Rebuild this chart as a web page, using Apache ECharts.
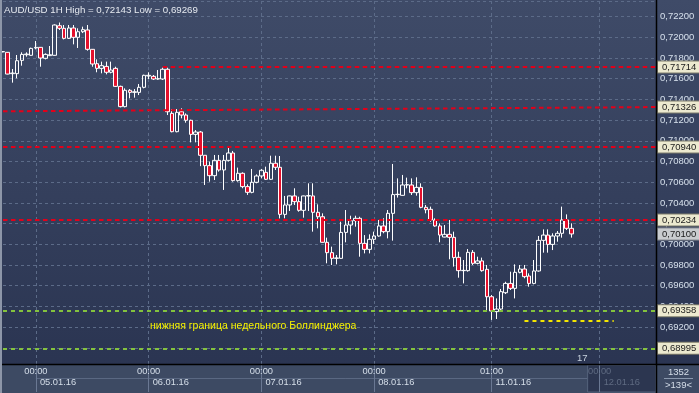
<!DOCTYPE html>
<html><head><meta charset="utf-8">
<script src="https://cdn.jsdelivr.net/npm/echarts@6/dist/echarts.min.js"></script>
<style>html,body{margin:0;padding:0;background:#2f3a56;}#c{width:699px;height:393px;}</style>
</head><body><div id="c"></div>
<script>
// ---------- data ----------
const days = ['04.01.16','05.01.16','06.01.16','07.01.16','08.01.16','11.01.16','12.01.16'];
const dayStart = [17,0,0,0,0,0,0];
const dayEnd = [23,23,23,23,23,23,12];
const tickIdx = [7,31,55,79,104,127];
const futureIdx = [127];

const open = [0.71860,0.71855,0.71649,0.71649,0.71777,0.71832,0.71826,0.71897,0.71903,0.71797,
0.71823,0.71826,0.72112,0.72087,0.71990,0.72090,0.72000,0.72054,0.72071,0.71884,
0.71745,0.71700,0.71719,0.71662,0.71700,0.71526,0.71330,0.71488,0.71468,0.71468,
0.71517,0.71626,0.71623,0.71597,0.71597,0.71691,0.71265,0.71088,0.71281,0.71249,
0.71198,0.71062,0.71085,0.70860,0.70760,0.70663,0.70811,0.70718,0.70811,0.70882,
0.70615,0.70686,0.70557,0.70502,0.70599,0.70660,0.70695,0.70628,0.70783,0.70744,
0.70289,0.70380,0.70467,0.70412,0.70328,0.70467,0.70467,0.70309,0.70266,0.70019,
0.69919,0.69864,0.69864,0.70115,0.70186,0.70228,0.70251,0.70009,0.69951,0.70048,
0.70080,0.70177,0.70122,0.70299,0.70480,0.70473,0.70573,0.70573,0.70499,0.70550,
0.70357,0.70338,0.70235,0.70177,0.70070,0.70096,0.70067,0.69874,0.69745,0.69745,
0.69922,0.69816,0.69839,0.69758,0.69493,0.69349,0.69374,0.69532,0.69622,0.69574,
0.69729,0.69761,0.69693,0.69622,0.69742,0.70038,0.70089,0.69999,0.70080,0.70106,
0.70235,0.70154];
const close = [0.71862,0.71645,0.71655,0.71774,0.71835,0.71838,0.71893,0.71903,0.71800,0.71835,
0.71832,0.72119,0.72087,0.71990,0.72090,0.72000,0.72054,0.72074,0.71884,0.71742,
0.71700,0.71726,0.71662,0.71684,0.71526,0.71330,0.71488,0.71468,0.71474,0.71517,
0.71633,0.71633,0.71597,0.71600,0.71691,0.71281,0.71088,0.71275,0.71249,0.71198,
0.71062,0.71085,0.70860,0.70760,0.70663,0.70811,0.70718,0.70811,0.70882,0.70615,
0.70686,0.70557,0.70502,0.70599,0.70660,0.70715,0.70628,0.70783,0.70744,0.70289,
0.70380,0.70467,0.70412,0.70328,0.70467,0.70470,0.70309,0.70266,0.70019,0.69919,
0.69864,0.69868,0.70115,0.70186,0.70228,0.70251,0.70009,0.69951,0.70048,0.70080,
0.70177,0.70122,0.70299,0.70480,0.70483,0.70573,0.70576,0.70499,0.70550,0.70357,
0.70334,0.70235,0.70177,0.70089,0.70096,0.70067,0.69871,0.69745,0.69748,0.69922,
0.69816,0.69839,0.69745,0.69493,0.69355,0.69374,0.69542,0.69622,0.69574,0.69729,
0.69761,0.69687,0.69622,0.69742,0.70038,0.70089,0.69999,0.70080,0.70106,0.70235,
0.70154,0.70100];
const low = [0.71855,0.71642,0.71562,0.71604,0.71726,0.71813,0.71823,0.71884,0.71716,0.71787,
0.71819,0.71823,0.72071,0.71980,0.71984,0.71932,0.71897,0.72041,0.71871,0.71716,
0.71662,0.71652,0.71642,0.71652,0.71520,0.71323,0.71323,0.71410,0.71417,0.71442,
0.71507,0.71597,0.71588,0.71590,0.71588,0.71249,0.71082,0.71082,0.71217,0.71175,
0.70985,0.70985,0.70755,0.70573,0.70605,0.70621,0.70702,0.70525,0.70799,0.70605,
0.70605,0.70541,0.70477,0.70493,0.70589,0.70637,0.70621,0.70621,0.70718,0.70250,
0.70251,0.70322,0.70380,0.70315,0.70257,0.70322,0.70122,0.70154,0.70016,0.69816,
0.69800,0.69806,0.69860,0.70019,0.70096,0.70170,0.69880,0.69912,0.69912,0.70003,
0.70073,0.70106,0.70057,0.70035,0.70451,0.70470,0.70541,0.70476,0.70470,0.70348,
0.70299,0.70218,0.70170,0.70019,0.70067,0.69855,0.69784,0.69677,0.69622,0.69735,
0.69800,0.69806,0.69735,0.69349,0.69269,0.69278,0.69364,0.69519,0.69558,0.69477,
0.69719,0.69671,0.69590,0.69613,0.69735,0.69919,0.69919,0.69944,0.70025,0.70064,
0.70138,0.70064];
const high = [0.71866,0.71858,0.71694,0.71829,0.71855,0.71855,0.71900,0.71964,0.71906,0.71845,
0.71916,0.72125,0.72143,0.72119,0.72119,0.72119,0.72087,0.72103,0.72119,0.71887,
0.71787,0.71765,0.71765,0.71765,0.71716,0.71533,0.71507,0.71500,0.71500,0.71549,
0.71639,0.71662,0.71636,0.71684,0.71707,0.71707,0.71307,0.71307,0.71314,0.71265,
0.71204,0.71104,0.71095,0.70860,0.70799,0.70863,0.70863,0.70863,0.70934,0.70902,
0.70741,0.70695,0.70579,0.70728,0.70676,0.70728,0.70750,0.70856,0.70856,0.70853,
0.70467,0.70470,0.70541,0.70460,0.70470,0.70589,0.70589,0.70386,0.70299,0.70064,
0.69977,0.69896,0.70218,0.70331,0.70276,0.70276,0.70266,0.70089,0.70096,0.70122,
0.70235,0.70251,0.70331,0.70776,0.70637,0.70670,0.70644,0.70637,0.70647,0.70589,
0.70380,0.70364,0.70251,0.70202,0.70186,0.70235,0.70122,0.69928,0.69848,0.69954,
0.69944,0.69880,0.69871,0.69800,0.69510,0.69477,0.69568,0.69638,0.69735,0.69806,
0.69800,0.69800,0.69719,0.69848,0.70080,0.70144,0.70144,0.70106,0.70128,0.70364,
0.70289,0.70202];

// horizontal levels
const redFull = [0.70940, 0.70234];
const redFrom = {idx: 34, value: 0.71714};
const trendFrom = {idx: 0, value: 0.71285};
const trendTo = {idx: 139, value: 0.71326};
const greenFull = [0.69358, 0.68995];
const yellowSeg = {from: 111, to: 130, value: 0.69263};
const lastPrice = 0.70100;
const noteText = 'нижняя граница недельного Боллинджера';
const barsInfo = ['1352', '>139<'];
const timerText = '17';

// ---------- layout ----------
const CW = 699, CH = 393;
const G = {left: 3, right: 43, top: 1, bottom: 29};
const yMin = 0.68843, yMax = 0.72351;
const narrow = "'Liberation Sans Narrow','Arial Narrow','Liberation Sans',sans-serif";
const sans = "'Liberation Sans',Arial,sans-serif";

const cats = [];
for (let d = 0; d < days.length; d++)
  for (let h = dayStart[d]; h <= dayEnd[d]; h++)
    cats.push(days[d] + ' ' + String(h).padStart(2, '0') + ':00');

const fmt = v => v.toFixed(5).replace('.', ',');
const isTick = i => tickIdx.indexOf(i) >= 0;
const isFuture = v => futureIdx.indexOf(cats.indexOf(v)) >= 0;

const tagLabel = (bg) => ({
  show: true, position: 'end', distance: 2,
  backgroundColor: bg, borderColor: '#7d7b6a', borderWidth: 1,
  padding: [1, 4, 0, 4], color: '#1a1a1a', fontSize: 9.5, fontFamily: narrow
});
const RED = {color: '#e2001a', width: 2, type: [4.5, 3.5]};
const GREEN = {color: '#84c23e', width: 2, type: [4, 4]};
const YEL = {color: '#f4e600', width: 2, type: [4, 4]};
const BEIGE = '#ece9cf';

const markData = [];
markData.push([{coord: [cats[redFrom.idx], redFrom.value], lineStyle: RED,
  label: Object.assign(tagLabel(BEIGE), {formatter: fmt(redFrom.value)})},
  {coord: [cats[cats.length - 1], redFrom.value]}]);
markData.push([{coord: [cats[trendFrom.idx], trendFrom.value], lineStyle: RED,
  label: Object.assign(tagLabel(BEIGE), {formatter: fmt(trendTo.value)})},
  {coord: [cats[trendTo.idx], trendTo.value]}]);
redFull.forEach(v => markData.push({yAxis: v, lineStyle: RED,
  label: Object.assign(tagLabel(BEIGE), {formatter: fmt(v)})}));
greenFull.forEach(v => markData.push({yAxis: v, lineStyle: GREEN,
  label: Object.assign(tagLabel(BEIGE), {formatter: fmt(v)})}));
markData.push([{coord: [cats[yellowSeg.from], yellowSeg.value], lineStyle: YEL, label: {show: false}},
  {coord: [cats[yellowSeg.to], yellowSeg.value]}]);
markData.push({yAxis: lastPrice, lineStyle: {color: 'rgba(0,0,0,0)', width: 0},
  label: Object.assign(tagLabel('#c9cccf'), {formatter: fmt(lastPrice), borderColor: '#8a8e94'})});

const hiV = Math.max.apply(null, high), loV = Math.min.apply(null, low);
const title = 'AUD/USD 1H High = ' + fmt(hiV) + ' Low = ' + fmt(loV);

const chart = echarts.init(document.getElementById('c'), null, {renderer: 'canvas', width: CW, height: CH});
const plotR = CW - G.right, plotB = CH - G.bottom;
const step = (plotR - G.left) / (cats.length - 1);
const futX = G.left + futureIdx[0] * step - 12;

chart.setOption({
  animation: false,
  backgroundColor: 'transparent',
  grid: {left: G.left, right: G.right, top: G.top, bottom: G.bottom, containLabel: false},
  xAxis: [{
    type: 'category', data: cats, boundaryGap: false, position: 'bottom',
    axisLine: {show: false},
    axisTick: {show: true, interval: isTick, length: 28, lineStyle: {color: '#6a7893', width: 1}},
    axisLabel: {interval: isTick, formatter: v => v.split(' ')[1], margin: 3,
      color: v => isFuture(v) ? '#5f6b82' : '#d6dfea', fontSize: 9.3, fontFamily: sans},
    splitLine: {show: true, interval: isTick, lineStyle: {color: '#5c6b88', width: 1, type: [3, 3]}}
  }, {
    type: 'category', data: cats, boundaryGap: false, position: 'bottom',
    axisLine: {show: false}, axisTick: {show: false}, splitLine: {show: false},
    axisLabel: {interval: isTick, formatter: v => v.split(' ')[0], margin: 14, align: 'left',
      padding: [0, 0, 0, 4], color: v => isFuture(v) ? '#5f6b82' : '#d6dfea', fontSize: 9.3, fontFamily: sans}
  }],
  yAxis: {
    type: 'value', position: 'right', min: yMin, max: yMax, splitNumber: 17, scale: true,
    axisLine: {show: false}, axisTick: {show: false},
    axisLabel: {formatter: v => fmt(v), color: '#d6e0ec', fontSize: 9.5, fontFamily: narrow, margin: 4,
      showMinLabel: false, showMaxLabel: false},
    splitLine: {show: true, lineStyle: {color: '#5c6b88', width: 1, type: [3, 3]}}
  },
  series: [{
    type: 'candlestick', xAxisIndex: 0,
    data: open.map((o, i) => [o, close[i], low[i], high[i]]),
    barWidth: 4,
    itemStyle: {color: 'rgba(0,0,0,0)', color0: '#e4102c', borderColor: '#ffffff', borderColor0: '#ffffff',
      borderColorDoji: '#ffffff', borderWidth: 1},
    silent: true
  }, {
    type: 'line', data: [], clip: false, silent: true, z: 3,
    markLine: {silent: true, symbol: 'none', precision: 5, animation: false, label: {show: false}, data: markData}
  }],
  graphic: [
    {type: 'rect', z: -100, silent: true, shape: {x: 0, y: 0, width: CW, height: CH},
      style: {fill: new echarts.graphic.LinearGradient(0, 0, 0, 1, [
        {offset: 0, color: '#3f4b68'}, {offset: 1, color: '#293350'}])}},
    {type: 'rect', z: -90, silent: true, shape: {x: 0, y: plotB, width: CW, height: CH - plotB},
      style: {fill: '#3d4a63'}},
    {type: 'line', z: -85, silent: true, shape: {x1: G.left + tickIdx[0] * step, y1: plotB + 14.5, x2: plotR, y2: plotB + 14.5},
      style: {stroke: '#5a6882', lineWidth: 1}},
    {type: 'rect', z: -80, silent: true, shape: {x: futX, y: plotB + 1, width: plotR - futX, height: CH - plotB - 2},
      style: {fill: '#2c3650', stroke: '#55637c', lineWidth: 1}},
    {type: 'line', z: 50, silent: true, shape: {x1: plotR + 0.5, y1: 0, x2: plotR + 0.5, y2: CH},
      style: {stroke: '#000', lineWidth: 1.5}},
    {type: 'line', z: 50, silent: true, shape: {x1: 0, y1: plotB + 0.5, x2: CW, y2: plotB + 0.5},
      style: {stroke: '#000', lineWidth: 1.5}},
    {type: 'rect', z: 50, silent: true, shape: {x: 0, y: 0, width: 2, height: CH},
      style: {fill: '#8d96a8'}},
    {type: 'line', z: 50, silent: true, shape: {x1: plotR + 8, y1: plotB + 14.5, x2: CW - 6, y2: plotB + 14.5},
      style: {stroke: '#8a98ae', lineWidth: 1}},
    {type: 'text', z: 50, silent: true, style: {x: (plotR + CW) / 2 + 1, y: plotB + 8, text: barsInfo[0],
      fill: '#d6dfea', font: '9.5px ' + sans, align: 'center', verticalAlign: 'middle'}},
    {type: 'text', z: 50, silent: true, style: {x: (plotR + CW) / 2 + 1, y: plotB + 21, text: barsInfo[1],
      fill: '#d6dfea', font: '9.5px ' + sans, align: 'center', verticalAlign: 'middle'}},
    {type: 'text', z: 50, silent: true, style: {x: 577, y: plotB - 6, text: timerText,
      fill: '#c8d2de', font: '9.5px ' + sans, align: 'left', verticalAlign: 'middle'}},
    {type: 'text', z: 50, silent: true, style: {x: 150, y: 326, text: noteText,
      fill: '#f6f200', font: '10.5px ' + sans, align: 'left', verticalAlign: 'middle'}},
    {type: 'text', z: 50, silent: true, style: {x: 4, y: 10, text: title,
      fill: '#e6eaf0', font: '9.7px ' + sans, align: 'left', verticalAlign: 'middle'}}
  ]
});
</script></body></html>
